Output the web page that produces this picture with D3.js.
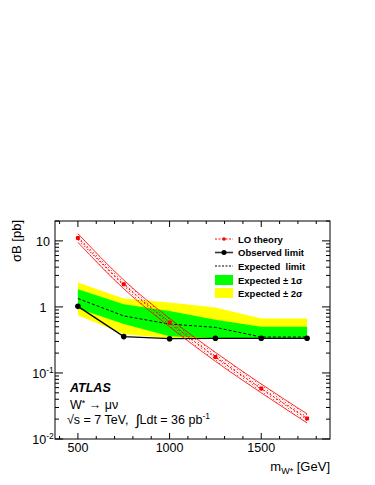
<!DOCTYPE html>
<html>
<head>
<meta charset="utf-8">
<script src="https://cdn.jsdelivr.net/npm/d3@7"></script>
<style>
  body { margin: 0; background: #fff; }
  svg { font-family: "Liberation Sans", Arial, Helvetica, sans-serif; }
</style>
</head>
<body>
<div id="chart"></div>
<script>
// W* -> mu nu limit plot

var mass = [500, 750, 1000, 1250, 1500, 1750];
var theory = [11.1, 2.2, 0.58, 0.175, 0.058, 0.0205];
var theoryHi = [12.9, 2.55, 0.67, 0.205, 0.068, 0.024];
var theoryLo = [9.5, 1.88, 0.5, 0.15, 0.05, 0.0175];
var observed = [1.02, 0.355, 0.33, 0.335, 0.335, 0.335];
var expected = [1.34, 0.73, 0.55, 0.49, 0.35, 0.35];
var sig1Hi = [1.85, 1.1, 0.87, 0.64, 0.5, 0.5];
var sig1Lo = [0.95, 0.55, 0.36, 0.335, 0.335, 0.335];
var sig2Hi = [2.34, 1.34, 1.17, 0.98, 0.67, 0.67];
var sig2Lo = [0.75, 0.385, 0.335, 0.335, 0.335, 0.335];
var xTickLabels = [500, 1000, 1500];
var legendLabels = ['LO theory', 'Observed limit', 'Expected  limit', 'Expected \u00b1 1\u03c3', 'Expected \u00b1 2\u03c3'];

var chart_width = 375;
var chart_height = 485;
var pLeft = 55, pRight = 330, pTop = 221, pBottom = 439;

var svg = d3
  .select('#chart')
  .append('svg')
  .attr('width', chart_width)
  .attr('height', chart_height);

var defs = svg.append('defs');
var pat = defs
  .append('pattern')
  .attr('id', 'hatch')
  .attr('patternUnits', 'userSpaceOnUse')
  .attr('width', 3)
  .attr('height', 3);
pat.append('rect').attr('x', 0).attr('y', 0).attr('width', 1).attr('height', 1).attr('fill', '#ff0000').attr('opacity', 0.7);
pat.append('rect').attr('x', 1.5).attr('y', 1.5).attr('width', 1).attr('height', 1).attr('fill', '#ff0000').attr('opacity', 0.4);

var x_scale = d3.scaleLinear().domain([375, 1875]).range([pLeft, pRight]);
var y_scale = d3.scaleLog().domain([0.01, 20]).range([pBottom, pTop]);

var idx = d3.range(mass.length);

function band(hi, lo) {
  return d3
    .area()
    .x(function(i) { return x_scale(mass[i]); })
    .y0(function(i) { return y_scale(lo[i]); })
    .y1(function(i) { return y_scale(hi[i]); })(idx);
}
function line(vals, curve) {
  return d3
    .line()
    .x(function(i) { return x_scale(mass[i]); })
    .y(function(i) { return y_scale(vals[i]); })
    .curve(curve || d3.curveLinear)(idx);
}

// expected bands
svg.append('path').attr('d', band(sig2Hi, sig2Lo)).attr('fill', '#ffff00');
svg.append('path').attr('d', band(sig1Hi, sig1Lo)).attr('fill', '#00ff00');

// expected limit
svg.append('path').attr('d', line(expected)).attr('fill', 'none')
  .attr('stroke', '#000').attr('stroke-width', 1).attr('stroke-dasharray', '3,2');

// observed limit
svg.append('path').attr('d', line(observed)).attr('fill', 'none')
  .attr('stroke', '#000').attr('stroke-width', 1.3);
svg.selectAll('circle.obs')
  .data(idx)
  .enter()
  .append('circle')
  .attr('class', 'obs')
  .attr('cx', function(i) { return x_scale(mass[i]); })
  .attr('cy', function(i) { return y_scale(observed[i]); })
  .attr('r', 2.8)
  .attr('fill', '#000');

// theory band
var bandArea = d3
  .area()
  .x(function(i) { return x_scale(mass[i]); })
  .y0(function(i) { return y_scale(theoryLo[i]); })
  .y1(function(i) { return y_scale(theoryHi[i]); })
  .curve(d3.curveMonotoneX);
svg.append('path').attr('d', bandArea(idx)).attr('fill', 'url(#hatch)');
svg.append('path').attr('d', line(theoryHi, d3.curveMonotoneX)).attr('fill', 'none')
  .attr('stroke', '#ff0000').attr('stroke-width', 0.8);
svg.append('path').attr('d', line(theoryLo, d3.curveMonotoneX)).attr('fill', 'none')
  .attr('stroke', '#ff0000').attr('stroke-width', 0.8);
svg.append('path').attr('d', line(theory, d3.curveMonotoneX)).attr('fill', 'none')
  .attr('stroke', '#ff0000').attr('stroke-width', 1).attr('stroke-dasharray', '2,2');
svg.selectAll('rect.th')
  .data(idx)
  .enter()
  .append('rect')
  .attr('class', 'th')
  .attr('x', function(i) { return x_scale(mass[i]) - 2; })
  .attr('y', function(i) { return y_scale(theory[i]) - 2; })
  .attr('width', 4)
  .attr('height', 4)
  .attr('rx', 1)
  .attr('fill', '#ff0000');

// frame
svg.append('rect')
  .attr('x', pLeft).attr('y', pTop)
  .attr('width', pRight - pLeft).attr('height', pBottom - pTop)
  .attr('fill', 'none').attr('stroke', '#000').attr('stroke-width', 1);

// x ticks (bottom and top, inward)
var xMinor = d3.range(400, 1900, 100);
xMinor.forEach(function(v) {
  var major = v % 500 === 0;
  var len = major ? 6 : 3;
  var xx = x_scale(v);
  svg.append('line').attr('x1', xx).attr('x2', xx).attr('y1', pBottom).attr('y2', pBottom - len)
    .attr('stroke', '#000').attr('stroke-width', 1);
  svg.append('line').attr('x1', xx).attr('x2', xx).attr('y1', pTop).attr('y2', pTop + len)
    .attr('stroke', '#000').attr('stroke-width', 1);
});
svg.selectAll('text.xl')
  .data(xTickLabels)
  .enter()
  .append('text')
  .attr('class', 'xl')
  .attr('x', function(d) { return x_scale(d); })
  .attr('y', 452)
  .attr('text-anchor', 'middle')
  .attr('font-size', '12.5px')
  .text(function(d) { return d; });

// y ticks (left and right, inward)
var yTicks = y_scale.ticks().filter(function(d) { return d <= 20; });
yTicks.forEach(function(v) {
  var lg = Math.log10(v);
  var major = Math.abs(lg - Math.round(lg)) < 1e-6;
  var len = major ? 8 : 4;
  var yy = y_scale(v);
  svg.append('line').attr('x1', pLeft).attr('x2', pLeft + len).attr('y1', yy).attr('y2', yy)
    .attr('stroke', '#000').attr('stroke-width', 1);
  svg.append('line').attr('x1', pRight).attr('x2', pRight - len).attr('y1', yy).attr('y2', yy)
    .attr('stroke', '#000').attr('stroke-width', 1);
});
var yLabels = [
  { v: 10, base: '10', exp: '' },
  { v: 1, base: '1', exp: '' },
  { v: 0.1, base: '10', exp: '-1' },
  { v: 0.01, base: '10', exp: '-2' }
];
yLabels.forEach(function(d) {
  var t = svg.append('text')
    .attr('x', 43)
    .attr('y', y_scale(d.v) + 5)
    .attr('text-anchor', 'middle')
    .attr('font-size', '12.5px');
  t.append('tspan').text(d.base);
  if (d.exp) {
    t.append('tspan').attr('font-size', '8.5px').attr('dy', -5).text(d.exp);
  }
});

// axis titles
svg.append('text')
  .attr('transform', 'translate(21,' + (pTop - 1) + ') rotate(-90)')
  .attr('text-anchor', 'end')
  .attr('font-size', '13px')
  .text('\u03c3B [pb]');

var xt = svg.append('text')
  .attr('x', pRight)
  .attr('y', 471)
  .attr('text-anchor', 'end')
  .attr('font-size', '13px');
xt.append('tspan').text('m');
xt.append('tspan').attr('font-size', '9px').attr('dy', 3).text('W*');
xt.append('tspan').attr('dy', -3).text(' [GeV]');

// legend
var legY = [239, 252.5, 266, 280, 293];
var lx0 = 215, lx1 = 233;
svg.append('line').attr('x1', lx0).attr('x2', lx1).attr('y1', legY[0]).attr('y2', legY[0])
  .attr('stroke', '#ff0000').attr('stroke-width', 1).attr('stroke-dasharray', '2,1.5');
svg.append('circle').attr('cx', (lx0 + lx1) / 2).attr('cy', legY[0]).attr('r', 1.8).attr('fill', '#ff0000');
svg.append('line').attr('x1', lx0).attr('x2', lx1).attr('y1', legY[1]).attr('y2', legY[1])
  .attr('stroke', '#333').attr('stroke-width', 1.6);
svg.append('circle').attr('cx', (lx0 + lx1) / 2).attr('cy', legY[1]).attr('r', 2.5).attr('fill', '#000');
svg.append('line').attr('x1', lx0).attr('x2', lx1).attr('y1', legY[2]).attr('y2', legY[2])
  .attr('stroke', '#000').attr('stroke-width', 1).attr('stroke-dasharray', '2,1.5');
svg.append('rect').attr('x', lx0).attr('y', legY[3] - 5).attr('width', lx1 - lx0).attr('height', 10).attr('fill', '#00ff00');
svg.append('rect').attr('x', lx0).attr('y', legY[4] - 5).attr('width', lx1 - lx0).attr('height', 10).attr('fill', '#ffff00');
svg.selectAll('text.leg')
  .data(legendLabels)
  .enter()
  .append('text')
  .attr('class', 'leg')
  .attr('x', 238)
  .attr('y', function(d, i) { return legY[i] + 3.5; })
  .attr('font-size', '9.5px')
  .attr('font-weight', 'bold')
  .style('white-space', 'pre')
  .text(function(d) { return d; });

// ATLAS labels
svg.append('text')
  .attr('x', 70).attr('y', 392)
  .attr('font-size', '12.5px')
  .attr('font-weight', 'bold')
  .attr('font-style', 'italic')
  .text('ATLAS');
var wt = svg.append('text').attr('x', 70).attr('y', 409).attr('font-size', '12.5px');
wt.append('tspan').text('W');
wt.append('tspan').attr('font-size', '9px').attr('dy', -3).text('*');
wt.append('tspan').attr('dy', 3).text(' \u2192 \u03bc\u03bd');
var st = svg.append('text').attr('x', 67).attr('y', 424).attr('font-size', '12.5px').style('white-space', 'pre');
st.append('tspan').text('\u221As = 7 TeV,  ');
st.append('tspan').attr('font-size', '15px').attr('dy', 1).text('\u222b');
st.append('tspan').attr('dy', -1).text('Ldt = 36 pb');
st.append('tspan').attr('font-size', '8.5px').attr('dy', -5).text('-1');
</script>
</body>
</html>
